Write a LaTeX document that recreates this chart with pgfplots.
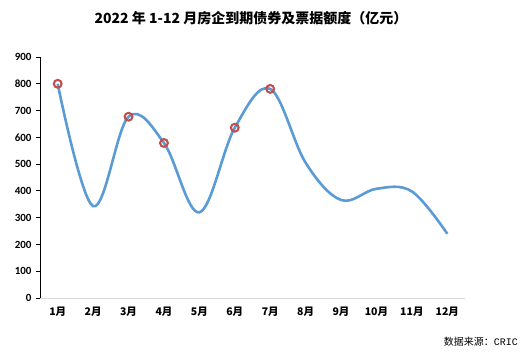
\documentclass[border=0pt]{standalone}
\usepackage{fontspec}
\usepackage{pgfplots}
\pgfplotsset{compat=1.18}
\setmainfont{Carlito}
\newfontfamily\cjk{Noto Sans CJK SC}
\newfontfamily\mono{Liberation Mono}
\definecolor{lineblue}{HTML}{5B9BD5}
\definecolor{mkred}{HTML}{C0504D}
\begin{document}
\begin{tikzpicture}
\path[use as bounding box] (-40bp,-66bp) rectangle (484bp,298bp);
\begin{axis}[
  at={(0,0)}, anchor=origin,
  scale only axis, width=425bp, height=241bp,
  xmin=0.5, xmax=12.5, ymin=0, ymax=900,
  ytick={0,100,...,900},
  xtick={1,...,12},
  xticklabels={1月,2月,3月,4月,5月,6月,7月,8月,9月,10月,11月,12月},
  axis x line*=bottom, axis y line*=left,
  x axis line style={draw=black!15, line width=0.8bp, -},
  y axis line style={draw=black, line width=0.8bp, -},
  major x tick style={draw=none},
  major y tick style={draw=black, line width=0.8bp},
  ytick align=outside, major tick length=4bp,
  yticklabel style={font=\fontsize{11bp}{13bp}\bfseries, xshift=-1bp},
  xticklabel style={font=\cjk\fontsize{10.5bp}{12bp}\bfseries, yshift=-5bp},
  /pgf/number format/assume math mode=true,
  clip=false,
]
\addplot[lineblue, line width=2.6bp, smooth, tension=0.6] coordinates {
(1,800) (2,343) (3,677) (4,579) (5,320) (6,636) (7,781) (8,505) (9,366) (10,408) (11,398) (12,240)
};
\addplot[only marks, mark=o, mark size=3.9bp, mark options={draw=mkred, line width=2.1bp, fill=none}] coordinates {
(1,800) (3,677) (4,579) (6,636) (7,781)
};
\end{axis}
\node[anchor=base, font=\cjk\fontsize{14bp}{16bp}\bfseries] at (211bp,274bp) {2022 年 1-12 月房企到期债券及票据额度（亿元）};
\node[anchor=base east, font=\cjk\fontsize{10.5bp}{12bp}, inner sep=0pt] at (478bp,-47bp) {数据来源：{\mono\fontsize{10bp}{11bp}\selectfont CRIC}};
\end{tikzpicture}
\end{document}
